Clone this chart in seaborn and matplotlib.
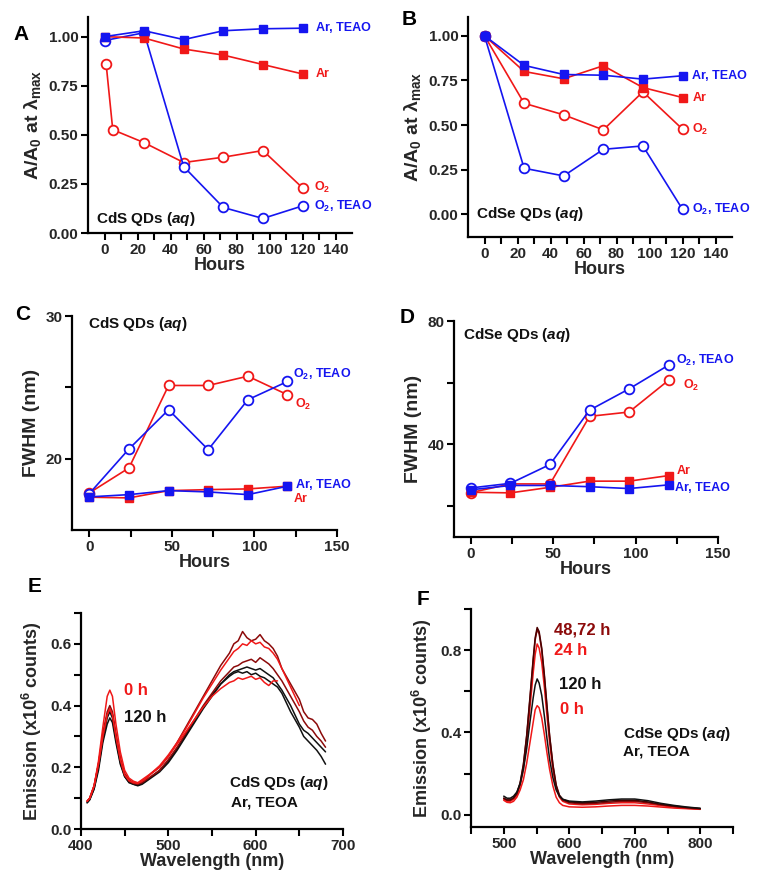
import numpy as np
import matplotlib
matplotlib.use('Agg')
import matplotlib.pyplot as plt
import seaborn as sns
from matplotlib.ticker import FixedLocator

nan = np.nan

# --- Panel A: CdS QDs, A/A0 vs hours ---
A_HOURS = [0, 24, 48, 72, 96, 120]
A_O2_HOURS = [1, 5, 24, 48, 72, 96, 120]
A_AR_TEAO = [1.00, 1.03, 0.985, 1.03, 1.04, 1.043]
A_AR = [1.00, 0.993, 0.937, 0.906, 0.858, 0.81]
A_O2 = [0.86, 0.526, 0.46, 0.359, 0.386, 0.42, 0.23]
A_O2_TEAO = [0.98, 1.02, 0.338, 0.13, 0.074, 0.138]

# --- Panel B: CdSe QDs, A/A0 vs hours ---
B_HOURS = [0, 24, 48, 72, 96, 120]
B_AR_TEAO = [1.00, 0.834, 0.783, 0.779, 0.757, 0.776]
B_AR = [1.00, 0.80, 0.759, 0.832, 0.71, 0.654]
B_O2 = [1.00, 0.622, 0.557, 0.473, 0.686, 0.477]
B_O2_TEAO = [1.00, 0.258, 0.215, 0.364, 0.383, 0.028]

# --- Panel C: CdS QDs, FWHM ---
C_HOURS = [0, 24, 48, 72, 96, 120]
C_O2_TEAO = [17.55, 20.68, 23.43, 20.63, 24.13, 25.41]
C_O2 = [17.6, 19.35, 25.13, 25.13, 25.78, 24.48]
C_AR = [17.3, 17.25, 17.76, 17.83, 17.88, 18.07]
C_AR_TEAO = [17.32, 17.48, 17.76, 17.67, 17.48, 18.07]

# --- Panel D: CdSe QDs, FWHM ---
D_HOURS = [0, 24, 48, 72, 96, 120]
D_O2_TEAO = [25.9, 27.4, 33.5, 51.1, 58.0, 65.7]
D_O2 = [24.4, 27.2, 27.2, 49.1, 50.5, 60.8]
D_AR = [24.5, 24.3, 26.1, 28.1, 28.1, 29.9]
D_AR_TEAO = [25.3, 26.7, 26.7, 26.3, 25.7, 26.9]

# --- Panel E: CdS emission spectra (x1e6 counts) ---
E_WL = [407, 410, 415, 420, 425, 430, 433, 436, 440, 445, 450, 455, 460, 465, 470, 475,
        480, 490, 500, 510, 520, 530, 540, 550, 560, 570, 575, 580, 585, 590, 595, 600,
        605, 610, 615, 620, 625, 630, 640, 650, 655, 660, 665, 670, 675, 680]
E_BLACK_120H = [.085, .095, .13, .19, .28, .34, .36, .345, .28, .21, .17, .15, .145, .14, .145, .155,
                .165, .185, .215, .255, .30, .345, .39, .43, .47, .50, .51, .515, .52, .525, .52, .515,
                .52, .51, .50, .49, .47, .45, .40, .34, .32, .31, .295, .28, .265, .25]
E_BLACK_2 = [.085, .095, .13, .20, .29, .36, .38, .36, .29, .215, .17, .152, .145, .142, .148, .157,
             .168, .19, .22, .26, .305, .35, .395, .435, .47, .495, .505, .51, .505, .51, .50, .505,
             .495, .49, .48, .47, .46, .44, .38, .33, .30, .285, .27, .255, .235, .21]
E_DARKRED_1 = [.09, .10, .14, .21, .31, .38, .40, .38, .31, .23, .18, .16, .15, .148, .155, .165,
               .18, .20, .235, .28, .33, .38, .43, .48, .53, .57, .60, .61, .64, .62, .61, .615,
               .63, .61, .60, .585, .56, .52, .47, .42, .38, .36, .355, .34, .31, .285]
E_DARKRED_2 = [.09, .10, .14, .21, .30, .37, .39, .37, .30, .225, .175, .155, .148, .145, .15, .16,
               .17, .19, .225, .265, .31, .355, .40, .44, .48, .51, .525, .53, .54, .545, .55, .54,
               .555, .545, .535, .52, .50, .48, .43, .38, .35, .33, .32, .30, .285, .265]
E_RED_2 = [.09, .10, .14, .21, .30, .37, .39, .37, .30, .225, .175, .157, .15, .148, .155, .165,
           .178, .20, .235, .275, .315, .355, .395, .43, .455, .475, .48, .49, .485, .49, .495, .485,
           .49, .475, .465, .48, .48, nan, nan, nan, nan, nan, nan, nan, nan, nan]
E_RED_0H = [.09, .10, .14, .22, .33, .43, .45, .43, .34, .25, .19, .165, .155, .15, .16, .17,
            .18, .205, .24, .28, .325, .375, .425, .47, .515, .555, .575, .585, .60, .595, .61, .60,
            .605, .59, .585, .57, .55, .52, .46, .40, nan, nan, nan, nan, nan, nan]

# --- Panel F: CdSe emission spectra (x1e6 counts) ---
F_WL = [500, 505, 510, 515, 520, 525, 530, 535, 540, 545, 548, 551, 554, 558, 562, 566,
        570, 575, 580, 585, 590, 600, 610, 620, 640, 660, 680, 700, 720, 740, 760, 780, 800]
F_0H = [.07, .06, .058, .065, .085, .12, .17, .25, .35, .45, .51, .53, .52, .47, .39, .30,
        .22, .14, .085, .058, .045, .038, .037, .036, .038, .042, .045, .045, .042, .037, .032, .029, .026]
F_24H = [.075, .065, .065, .075, .095, .14, .22, .35, .52, .69, .78, .83, .81, .74, .62, .48,
         .35, .22, .13, .085, .065, .052, .05, .048, .05, .055, .058, .058, .052, .044, .037, .031, .027]
F_48H = [.08, .07, .07, .08, .10, .15, .24, .38, .56, .75, .85, .90, .88, .80, .67, .52,
         .38, .24, .14, .09, .07, .058, .055, .053, .055, .06, .065, .065, .058, .048, .04, .033, .028]
F_72H = [.08, .072, .072, .082, .105, .155, .245, .385, .57, .76, .86, .91, .89, .81, .68, .53,
         .385, .245, .145, .095, .075, .062, .06, .058, .06, .066, .07, .07, .062, .05, .042, .035, .03]
F_120H = [.09, .08, .08, .09, .11, .15, .22, .32, .45, .57, .63, .66, .64, .58, .48, .37,
          .27, .18, .12, .09, .075, .066, .064, .062, .066, .072, .076, .076, .068, .055, .045, .037, .031]

RED = '#f01818'
BLUE = '#1515f0'
DARKRED = '#8c0a0a'
DARKER = '#4a0000'
BLACK = '#111111'

sns.set_theme(style='ticks')
plt.rcParams['font.family'] = ['Liberation Sans', 'DejaVu Sans']
plt.rcParams['font.weight'] = 'bold'
plt.rcParams['axes.labelweight'] = 'bold'
plt.rcParams['mathtext.fontset'] = 'custom'
plt.rcParams['mathtext.rm'] = 'Liberation Sans:bold'
plt.rcParams['mathtext.bf'] = 'Liberation Sans:bold'
plt.rcParams['mathtext.it'] = 'Liberation Sans:bold:italic'

W, H = 757, 888
fig = plt.figure(figsize=(W / 100, H / 100), dpi=100)


def make_axes(l, t, r, b):
    ax = fig.add_axes([l / W, 1 - b / H, (r - l) / W, (b - t) / H])
    ax.set_facecolor('none')
    for s in ['top', 'right']:
        ax.spines[s].set_visible(False)
    for s in ['left', 'bottom']:
        ax.spines[s].set_linewidth(1.6)
        ax.spines[s].set_color('black')
    ax.tick_params(which='both', direction='out', width=1.5, length=5,
                   color='black', labelsize=11, pad=2)
    return ax


def series(ax, x, y, color, filled):
    if filled:
        sns.lineplot(x=x, y=y, ax=ax, color=color, lw=1.2, marker='s', markersize=6,
                     markerfacecolor=color, markeredgecolor=color, markeredgewidth=1,
                     estimator=None, clip_on=False)
    else:
        sns.lineplot(x=x, y=y, ax=ax, color=color, lw=1.2, marker='o', markersize=7,
                     markerfacecolor='white', markeredgecolor=color, markeredgewidth=1.3,
                     estimator=None, clip_on=False)


def spectrum(ax, x, y, color):
    sns.lineplot(x=x, y=y, ax=ax, color=color, lw=1.1, estimator=None)


def label(ax, x, y, s, color, size=9, ha='left'):
    ax.text(x, y, s, color=color, fontsize=size, fontweight='bold', ha=ha, va='center')


O2 = 'O$_2$'
O2T = 'O$_2$, TEAO'
HOUR_MAJOR = [0, 20, 40, 60, 80, 100, 120, 140]
HOUR_MINOR = [10, 30, 50, 70, 90, 110, 130]

# ---------- A ----------
ax = make_axes(88, 17, 352, 233)
series(ax, A_O2_HOURS, A_O2, RED, False)
series(ax, A_HOURS, A_O2_TEAO, BLUE, False)
series(ax, A_HOURS, A_AR, RED, True)
series(ax, A_HOURS, A_AR_TEAO, BLUE, True)
ax.set_xlim(-10, 150)
ax.set_ylim(0, 1.1)
ax.xaxis.set_major_locator(FixedLocator(HOUR_MAJOR))
ax.xaxis.set_minor_locator(FixedLocator(HOUR_MINOR))
ax.set_yticks([0, 0.25, 0.5, 0.75, 1.0])
ax.set_yticklabels(['0.00', '0.25', '0.50', '0.75', '1.00'])
ax.set_xlabel('Hours', fontsize=13, labelpad=0)
ax.set_ylabel('A/A$_0$ at λ$_{\\mathrm{max}}$', fontsize=14, labelpad=4)
label(ax, 128, 1.043, 'Ar, TEAO', BLUE)
label(ax, 128, 0.81, 'Ar', RED)
label(ax, 127, 0.23, O2, RED)
label(ax, 127, 0.137, O2T, BLUE)
label(ax, -5, 0.07, 'CdS QDs ($\\mathit{aq}$)', BLACK, size=11)

# ---------- B ----------
ax = make_axes(468, 17, 732, 237)
series(ax, B_HOURS, B_O2, RED, False)
series(ax, B_HOURS, B_O2_TEAO, BLUE, False)
series(ax, B_HOURS, B_AR, RED, True)
series(ax, B_HOURS, B_AR_TEAO, BLUE, True)
ax.set_xlim(-10, 150)
ax.set_ylim(-0.127, 1.105)
ax.xaxis.set_major_locator(FixedLocator(HOUR_MAJOR))
ax.xaxis.set_minor_locator(FixedLocator(HOUR_MINOR))
ax.set_yticks([0, 0.25, 0.5, 0.75, 1.0])
ax.set_yticklabels(['0.00', '0.25', '0.50', '0.75', '1.00'])
ax.set_xlabel('Hours', fontsize=13, labelpad=0)
ax.set_ylabel('A/A$_0$ at λ$_{\\mathrm{max}}$', fontsize=14, labelpad=4)
label(ax, 126, 0.776, 'Ar, TEAO', BLUE)
label(ax, 126, 0.65, 'Ar', RED)
label(ax, 126, 0.477, O2, RED)
label(ax, 126, 0.028, O2T, BLUE)
label(ax, -5, 0.0, 'CdSe QDs ($\\mathit{aq}$)', BLACK, size=11)

# ---------- C ----------
ax = make_axes(72, 316, 337, 530)
series(ax, C_HOURS, C_O2, RED, False)
series(ax, C_HOURS, C_O2_TEAO, BLUE, False)
series(ax, C_HOURS, C_AR, RED, True)
series(ax, C_HOURS, C_AR_TEAO, BLUE, True)
ax.set_xlim(-10.5, 150)
ax.set_ylim(15, 30)
ax.xaxis.set_major_locator(FixedLocator([0, 50, 100, 150]))
ax.xaxis.set_minor_locator(FixedLocator([25, 75, 125]))
ax.yaxis.set_major_locator(FixedLocator([20, 30]))
ax.yaxis.set_minor_locator(FixedLocator([25]))
ax.set_xlabel('Hours', fontsize=13, labelpad=0)
ax.set_ylabel('FWHM (nm)', fontsize=14, labelpad=4)
label(ax, 123.5, 25.87, O2T, BLUE)
label(ax, 124.5, 23.78, O2, RED)
label(ax, 125, 18.14, 'Ar, TEAO', BLUE)
label(ax, 123.5, 17.2, 'Ar', RED)
label(ax, -1, 29.44, 'CdS QDs ($\\mathit{aq}$)', BLACK, size=11)

# ---------- D ----------
ax = make_axes(454, 321, 718, 537)
series(ax, D_HOURS, D_O2, RED, False)
series(ax, D_HOURS, D_O2_TEAO, BLUE, False)
series(ax, D_HOURS, D_AR, RED, True)
series(ax, D_HOURS, D_AR_TEAO, BLUE, True)
ax.set_xlim(-10.3, 150)
ax.set_ylim(10, 80)
ax.xaxis.set_major_locator(FixedLocator([0, 50, 100, 150]))
ax.xaxis.set_minor_locator(FixedLocator([25, 75, 125]))
ax.yaxis.set_major_locator(FixedLocator([40, 80]))
ax.yaxis.set_minor_locator(FixedLocator([20, 60]))
ax.set_xlabel('Hours', fontsize=13, labelpad=0)
ax.set_ylabel('FWHM (nm)', fontsize=14, labelpad=4)
label(ax, 124.3, 67.1, O2T, BLUE)
label(ax, 129, 59.2, O2, RED)
label(ax, 124.7, 31.5, 'Ar', RED)
label(ax, 123.7, 25.8, 'Ar, TEAO', BLUE)
label(ax, -4.6, 75.4, 'CdSe QDs ($\\mathit{aq}$)', BLACK, size=11)

# ---------- E ----------
ax = make_axes(81, 613, 343, 829)
spectrum(ax, E_WL, E_BLACK_2, BLACK)
spectrum(ax, E_WL, E_BLACK_120H, BLACK)
spectrum(ax, E_WL, E_DARKRED_2, DARKRED)
spectrum(ax, E_WL, E_DARKRED_1, DARKRED)
spectrum(ax, E_WL, E_RED_2, RED)
spectrum(ax, E_WL, E_RED_0H, RED)
ax.set_xlim(400, 700)
ax.set_ylim(0, 0.7)
ax.xaxis.set_major_locator(FixedLocator([400, 500, 600, 700]))
ax.xaxis.set_minor_locator(FixedLocator([450, 550, 650]))
ax.set_yticks([0, 0.2, 0.4, 0.6])
ax.set_yticklabels(['0.0', '0.2', '0.4', '0.6'])
ax.yaxis.set_minor_locator(FixedLocator([0.1, 0.3, 0.5, 0.7]))
ax.set_xlabel('Wavelength (nm)', fontsize=13, labelpad=0)
ax.set_ylabel('Emission (x10$^6$ counts)', fontsize=13, labelpad=4)
label(ax, 449, 0.45, '0 h', RED, size=12)
label(ax, 449, 0.361, '120 h', BLACK, size=12)
label(ax, 570, 0.148, 'CdS QDs ($\\mathit{aq}$)', BLACK, size=11)
label(ax, 572, 0.085, 'Ar, TEOA', BLACK, size=11)

# ---------- F ----------
ax = make_axes(471, 609, 733, 827)
spectrum(ax, F_WL, F_0H, RED)
spectrum(ax, F_WL, F_24H, RED)
spectrum(ax, F_WL, F_48H, DARKRED)
spectrum(ax, F_WL, F_72H, DARKER)
spectrum(ax, F_WL, F_120H, BLACK)
ax.set_xlim(450, 850)
ax.set_ylim(-0.06, 1.0)
ax.xaxis.set_major_locator(FixedLocator([500, 600, 700, 800]))
ax.xaxis.set_minor_locator(FixedLocator([450, 550, 650, 750, 850]))
ax.set_yticks([0, 0.4, 0.8])
ax.set_yticklabels(['0.0', '0.4', '0.8'])
ax.yaxis.set_minor_locator(FixedLocator([0.2, 0.6, 1.0]))
ax.set_xlabel('Wavelength (nm)', fontsize=13, labelpad=0)
ax.set_ylabel('Emission (x10$^6$ counts)', fontsize=13, labelpad=4)
label(ax, 576, 0.898, '48,72 h', DARKRED, size=12)
label(ax, 577, 0.797, '24 h', RED, size=12)
label(ax, 584, 0.633, '120 h', BLACK, size=12)
label(ax, 586, 0.511, '0 h', RED, size=12)
label(ax, 682, 0.394, 'CdSe QDs ($\\mathit{aq}$)', BLACK, size=11)
label(ax, 682, 0.308, 'Ar, TEOA', BLACK, size=11)

# panel letters (figure pixels: x, baseline)
for letter, px, py in [('A', 13, 40), ('B', 402, 25), ('C', 15, 320),
                       ('D', 400, 323), ('E', 28, 592), ('F', 417, 605)]:
    fig.text(px / W, 1 - py / H, letter, fontsize=15, fontweight='bold',
             ha='left', va='baseline', color='black')

fig.savefig('out.png', dpi=100, facecolor='white')
